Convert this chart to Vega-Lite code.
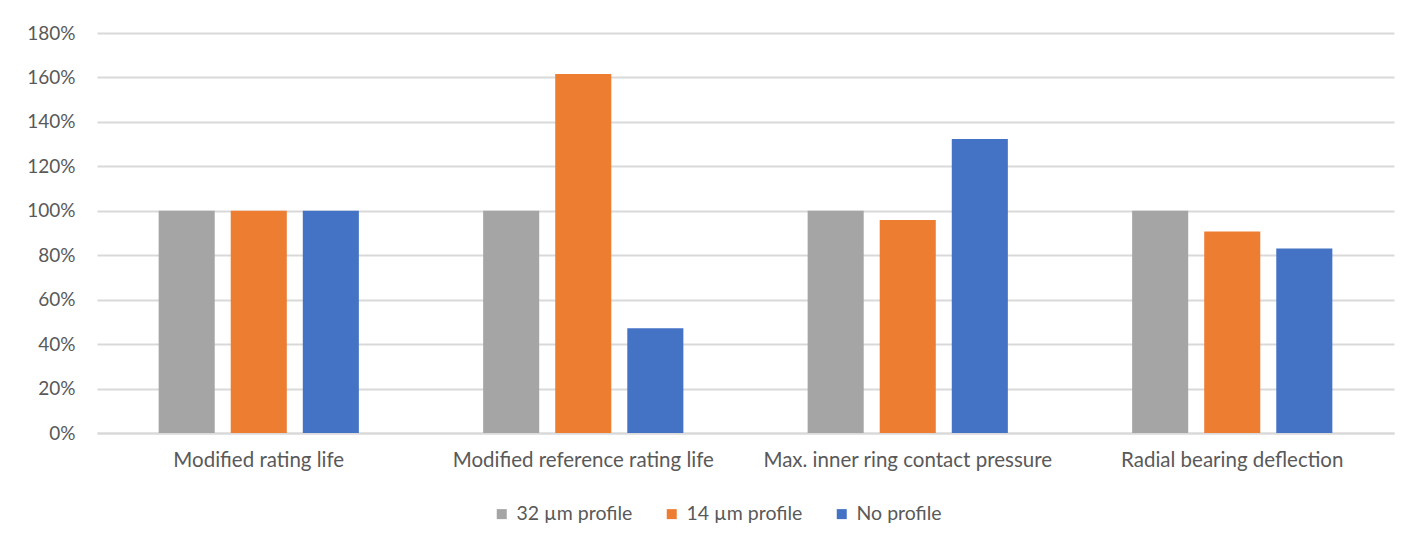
{
  "$schema": "https://vega.github.io/schema/vega-lite/v6.json",
  "width": 1297,
  "height": 400,
  "autosize": {"type": "none"},
  "padding": {"left": 97, "top": 33, "right": 34, "bottom": 113},
  "background": "white",
  "data": {
    "values": [
      {"metric": "Modified rating life", "profile": "32 µm profile", "value": 1.00},
      {"metric": "Modified rating life", "profile": "14 µm profile", "value": 1.00},
      {"metric": "Modified rating life", "profile": "No profile", "value": 1.00},
      {"metric": "Modified reference rating life", "profile": "32 µm profile", "value": 1.00},
      {"metric": "Modified reference rating life", "profile": "14 µm profile", "value": 1.616},
      {"metric": "Modified reference rating life", "profile": "No profile", "value": 0.471},
      {"metric": "Max. inner ring contact pressure", "profile": "32 µm profile", "value": 1.00},
      {"metric": "Max. inner ring contact pressure", "profile": "14 µm profile", "value": 0.959},
      {"metric": "Max. inner ring contact pressure", "profile": "No profile", "value": 1.323},
      {"metric": "Radial bearing deflection", "profile": "32 µm profile", "value": 1.00},
      {"metric": "Radial bearing deflection", "profile": "14 µm profile", "value": 0.907},
      {"metric": "Radial bearing deflection", "profile": "No profile", "value": 0.830}
    ]
  },
  "mark": {"type": "bar"},
  "encoding": {
    "x": {
      "field": "metric",
      "type": "nominal",
      "sort": null,
      "scale": {"paddingInner": 0.383, "paddingOuter": 0.19},
      "axis": {
        "title": null,
        "labelAngle": 0,
        "labelLimit": 0,
        "ticks": false,
        "domain": true,
        "domainColor": "#D9D9D9",
        "domainWidth": 2,
        "labelFont": "Lato",
        "labelFontSize": 20.5,
        "labelColor": "#595959",
        "labelPadding": 17
      }
    },
    "xOffset": {
      "field": "profile",
      "type": "nominal",
      "sort": ["32 µm profile", "14 µm profile", "No profile"],
      "scale": {"paddingInner": 0.222, "paddingOuter": 0}
    },
    "y": {
      "field": "value",
      "type": "quantitative",
      "scale": {"domain": [0, 1.8], "nice": false},
      "axis": {
        "title": null,
        "format": ".0%",
        "values": [0, 0.2, 0.4, 0.6, 0.8, 1.0, 1.2, 1.4, 1.6, 1.8],
        "ticks": false,
        "domain": false,
        "grid": true,
        "gridColor": "#D9D9D9",
        "gridWidth": 2,
        "labelFont": "Lato",
        "labelFontSize": 19,
        "labelColor": "#595959",
        "labelPadding": 22
      }
    },
    "color": {
      "field": "profile",
      "type": "nominal",
      "sort": ["32 µm profile", "14 µm profile", "No profile"],
      "scale": {
        "domain": ["32 µm profile", "14 µm profile", "No profile"],
        "range": ["#A5A5A5", "#ED7D31", "#4472C4"]
      },
      "legend": {
        "title": null,
        "orient": "none",
        "legendX": 395,
        "legendY": 471,
        "direction": "horizontal",
        "symbolType": "square",
        "symbolSize": 100,
        "symbolStrokeWidth": 0,
        "labelFont": "Lato",
        "labelFontSize": 19.5,
        "labelColor": "#595959",
        "columnPadding": 29,
        "labelOffset": 5
      }
    }
  },
  "config": {
    "view": {"stroke": null}
  }
}
